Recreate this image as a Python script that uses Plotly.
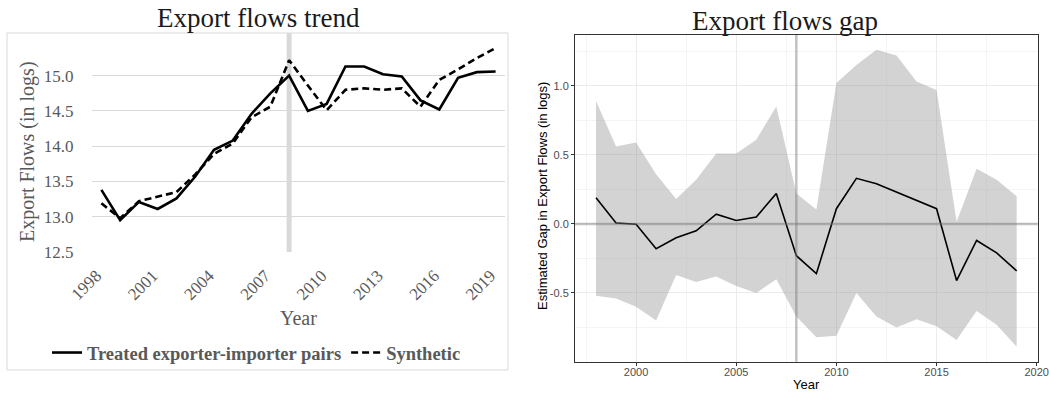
import plotly.graph_objects as go

# ---------------- data ----------------
years = list(range(1998, 2020))
treated = [13.38, 12.95, 13.21, 13.11, 13.26, 13.57, 13.95, 14.08, 14.46, 14.75, 15.00,
           14.50, 14.60, 15.13, 15.13, 15.02, 14.99, 14.65, 14.52, 14.97, 15.05, 15.06]
synthetic = [13.19, 12.98, 13.22, 13.29, 13.35, 13.60, 13.89, 14.04, 14.41, 14.56, 15.22,
             14.86, 14.51, 14.80, 14.82, 14.80, 14.82, 14.56, 14.94, 15.09, 15.25, 15.39]
gap = [0.19, 0.007, -0.002, -0.18, -0.10, -0.05, 0.07, 0.025, 0.05, 0.22, -0.23,
       -0.36, 0.11, 0.33, 0.29, 0.23, 0.165, 0.11, -0.41, -0.12, -0.21, -0.34]
gap_upper = [0.89, 0.56, 0.59, 0.36, 0.18, 0.32, 0.51, 0.51, 0.61, 0.85, 0.22,
             0.105, 1.02, 1.15, 1.26, 1.22, 1.03, 0.97, 0.016, 0.40, 0.32, 0.20]
gap_lower = [-0.52, -0.54, -0.60, -0.70, -0.37, -0.42, -0.38, -0.45, -0.50, -0.40, -0.67,
             -0.82, -0.81, -0.50, -0.67, -0.75, -0.69, -0.74, -0.84, -0.63, -0.73, -0.89]
treat_year = 2008

left_yticks = [12.5, 13.0, 13.5, 14.0, 14.5, 15.0]
left_xticks = [1998, 2001, 2004, 2007, 2010, 2013, 2016, 2019]
right_yticks = [-0.5, 0.0, 0.5, 1.0]
right_yticktext = ["-0.5", "0.0", "0.5", "1.0"]
right_xticks = [2000, 2005, 2010, 2015, 2020]

W, H = 1049, 393
def px(x):
    return x / W
def py(y):
    return 1 - y / H

SERIF = "Liberation Serif, Times New Roman, serif"
SANS = "Liberation Sans, Arial, sans-serif"
XLGRAY = "#595959"

fig = go.Figure()

# ---- left chart ----
fig.add_trace(go.Scatter(x=years, y=treated, mode="lines", name="Treated exporter-importer pairs",
                         line=dict(color="black", width=2.6), xaxis="x", yaxis="y"))
fig.add_trace(go.Scatter(x=years, y=synthetic, mode="lines", name="Synthetic",
                         line=dict(color="black", width=2.6, dash="7px,4px"), xaxis="x", yaxis="y"))

# ---- right chart ----
fig.add_trace(go.Scatter(x=years, y=gap_upper, mode="lines", line=dict(width=0),
                         showlegend=False, hoverinfo="skip", xaxis="x2", yaxis="y2"))
fig.add_trace(go.Scatter(x=years, y=gap_lower, mode="lines", line=dict(width=0),
                         fill="tonexty", fillcolor="rgba(150,150,150,0.42)",
                         showlegend=False, hoverinfo="skip", xaxis="x2", yaxis="y2"))
fig.add_trace(go.Scatter(x=years, y=gap, mode="lines", line=dict(color="black", width=1.6),
                         showlegend=False, xaxis="x2", yaxis="y2"))

shapes = [
    # Excel chart-area border
    dict(type="rect", xref="paper", yref="paper", x0=px(7), x1=px(508), y0=py(370), y1=py(33),
         line=dict(color="#d9d9d9", width=1), layer="below"),
    # left treatment line
    dict(type="line", xref="x", yref="y domain", x0=treat_year, x1=treat_year, y0=0, y1=1,
         line=dict(color="#d9d9d9", width=5), layer="below"),
    # right zero line and treatment line
    dict(type="line", xref="x2 domain", yref="y2", x0=0, x1=1, y0=0, y1=0,
         line=dict(color="rgba(120,120,120,0.45)", width=2.5), layer="above"),
    dict(type="line", xref="x2", yref="y2 domain", x0=treat_year, x1=treat_year, y0=0, y1=1,
         line=dict(color="rgba(120,120,120,0.45)", width=2.5), layer="above"),
]

def ann(text, x, y, font, angle=0):
    return dict(text=text, x=px(x), y=py(y), xref="paper", yref="paper", xanchor="center",
                yanchor="middle", showarrow=False, textangle=angle, font=font)

annotations = [
    ann("Export flows trend", 258, 18, dict(family=SERIF, size=27, color="#1a1a1a")),
    ann("Export flows gap", 785, 21, dict(family=SERIF, size=27, color="#1a1a1a")),
    ann("Export Flows (in logs)", 27, 152, dict(family=SERIF, size=20, color=XLGRAY), -90),
    ann("Year", 298, 318, dict(family=SERIF, size=20, color=XLGRAY)),
    ann("Estimated Gap in Export Flows (in logs)", 542, 196, dict(family=SANS, size=13, color="black"), -90),
    ann("Year", 806, 384, dict(family=SANS, size=13, color="black")),
]

fig.update_layout(
    width=W, height=H,
    margin=dict(l=0, r=0, t=0, b=0, autoexpand=False),
    paper_bgcolor="white", plot_bgcolor="rgba(0,0,0,0)",
    shapes=shapes, annotations=annotations,
    showlegend=True,
    legend=dict(orientation="h", x=px(47), y=py(353), xanchor="left", yanchor="middle",
                traceorder="normal",
                font=dict(family=SERIF, size=18.5, color=XLGRAY, weight="bold"),
                itemwidth=30, bgcolor="rgba(0,0,0,0)", tracegroupgap=0),
    xaxis=dict(domain=[px(92), px(505)], range=[1997.5, 2019.5], tickvals=left_xticks,
               tickangle=-45, showgrid=False, zeroline=False, showline=False, automargin=False,
               ticks="outside", ticklen=6, tickcolor="rgba(0,0,0,0)", ticklabelshift=-5,
               tickfont=dict(family=SERIF, size=17, color=XLGRAY), anchor="y"),
    yaxis=dict(domain=[py(252), py(33)], range=[12.5, 15.605], tickvals=left_yticks,
               tickformat=".1f", showgrid=True, gridcolor="#d9d9d9", gridwidth=1,
               zeroline=False, showline=False, ticks="outside", ticklen=14, automargin=False,
               tickcolor="rgba(0,0,0,0)",
               tickfont=dict(family=SERIF, size=17, color=XLGRAY), anchor="x"),
    xaxis2=dict(domain=[px(575), px(1037.7)], range=[1996.95, 2020.05], tickvals=right_xticks,
                showgrid=True, gridcolor="#ebebeb", gridwidth=1, automargin=False,
                minor=dict(tick0=1997.5, dtick=2.5, showgrid=True, gridcolor="#f4f4f4", gridwidth=0.7),
                zeroline=False, showline=True, linecolor="#333333", linewidth=1, mirror=True,
                ticks="outside", ticklen=3, tickcolor="#333333", ticklabelstandoff=-3,
                tickfont=dict(family=SANS, size=11, color="#4d4d4d"), anchor="y2"),
    yaxis2=dict(domain=[py(361.7), py(35)], range=[-0.9975, 1.3675], tickvals=right_yticks,
                ticktext=right_yticktext, automargin=False,
                showgrid=True, gridcolor="#ebebeb", gridwidth=1,
                minor=dict(tick0=-0.75, dtick=0.25, showgrid=True, gridcolor="#f4f4f4", gridwidth=0.7),
                zeroline=False, showline=True, linecolor="#333333", linewidth=1, mirror=True,
                ticks="outside", ticklen=3, tickcolor="#333333",
                tickfont=dict(family=SANS, size=11, color="#4d4d4d"), anchor="x2"),
)

fig.write_html("out.html", config={"displayModeBar": False},
               post_script="document.body.style.margin='0';document.body.style.overflow='hidden';")
